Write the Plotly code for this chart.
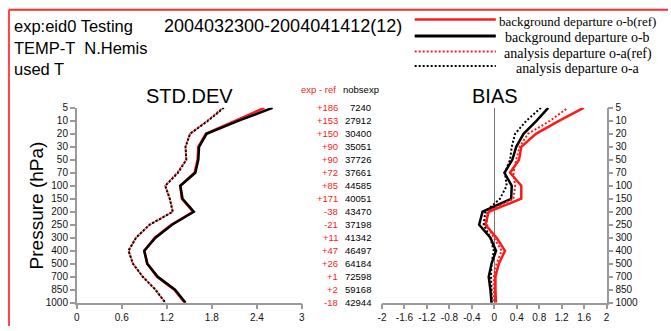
import plotly.graph_objects as go

# Pressure levels (hPa), top of the profile first
levels = ["5", "10", "20", "30", "50", "70", "100", "150", "200", "250",
          "300", "400", "500", "700", "850", "1000"]

# Standard deviation of departures
std_ob_ref = [2.50, 2.12, 1.72, 1.62, 1.61, 1.57, 1.38, 1.40, 1.55, 1.26, 1.04, 0.90, 0.94, 1.07, 1.30, 1.44]
std_ob_exp = [2.61, 2.15, 1.73, 1.63, 1.62, 1.58, 1.38, 1.41, 1.56, 1.27, 1.05, 0.90, 0.94, 1.08, 1.31, 1.45]
std_oa_ref = [1.95, 1.74, 1.51, 1.45, 1.46, 1.34, 1.18, 1.24, 1.28, 0.97, 0.79, 0.69, 0.75, 0.88, 1.05, 1.18]
std_oa_exp = [1.96, 1.75, 1.51, 1.45, 1.46, 1.35, 1.18, 1.24, 1.28, 0.97, 0.79, 0.69, 0.75, 0.88, 1.05, 1.18]

# Bias of departures
bias_ob_ref = [1.59, 1.15, 0.74, 0.48, 0.44, 0.28, 0.48, 0.48, -0.10, -0.16, 0.04, 0.19, 0.08, 0.02, 0.02, 0.03]
bias_ob_exp = [0.96, 0.75, 0.52, 0.39, 0.32, 0.18, 0.31, 0.30, -0.21, -0.27, -0.07, 0.03, -0.05, -0.10, -0.07, -0.05]
bias_oa_ref = [1.31, 0.99, 0.60, 0.45, 0.39, 0.34, 0.37, 0.34, -0.13, -0.13, -0.01, 0.13, 0.04, -0.01, -0.01, -0.01]
bias_oa_exp = [0.83, 0.57, 0.37, 0.31, 0.28, 0.19, 0.22, 0.10, -0.16, -0.19, -0.07, -0.01, -0.05, -0.06, -0.05, -0.05]

# Observation counts: difference exp - ref and number used in exp
nobs_diff = ["+186", "+153", "+150", "+90", "+90", "+72", "+85", "+171", "-38", "-21",
             "+11", "+47", "+26", "+1", "+2", "-18"]
nobs_exp = ["7240", "27912", "30400", "35051", "37726", "37661", "44585", "40051", "43470",
            "37198", "41342", "46497", "64184", "72598", "59168", "42944"]

std_ticks = [0, 0.6, 1.2, 1.8, 2.4, 3]
bias_ticks = [-2, -1.6, -1.2, -0.8, -0.4, 0, 0.4, 0.8, 1.2, 1.6, 2]

W, H = 671, 331
RED = "#ff1a1a"
SANS = "Liberation Sans, Arial, sans-serif"
SERIF = "Liberation Serif, Times New Roman, serif"
AXC = "#9a9a9a"


def px(x):
    return x / W


def py(y):
    return 1 - y / H


idx = list(range(len(levels)))

fig = go.Figure()

DOT = "2px,2px"
DOT_SHIFT = "0px,2px,2px,0px"

series = [
    ("x", "y", std_ob_ref, RED, 2.5, "solid"),
    ("x", "y", std_ob_exp, "black", 2.5, "solid"),
    ("x", "y", std_oa_ref, RED, 2, DOT_SHIFT),
    ("x", "y", std_oa_exp, "black", 2, DOT),
    ("x2", "y2", bias_ob_ref, RED, 2.5, "solid"),
    ("x2", "y2", bias_ob_exp, "black", 2.5, "solid"),
    ("x2", "y2", bias_oa_ref, RED, 2, DOT_SHIFT),
    ("x2", "y2", bias_oa_exp, "black", 2, DOT),
]
for xa, ya, vals, col, w, dash in series:
    fig.add_trace(go.Scatter(x=vals, y=idx, xaxis=xa, yaxis=ya, mode="lines",
                             line=dict(color=col, width=w, dash=dash),
                             showlegend=False, hoverinfo="skip"))

ydom = [py(307), py(106)]
tickfont = dict(family=SANS, size=10, color="#111")
common_axis = dict(showgrid=False, showline=True, linecolor=AXC, linewidth=1.5,
                   ticks="outside", ticklen=5, tickcolor=AXC, tickwidth=1.5,
                   tickfont=tickfont)

fig.update_layout(
    width=W, height=H,
    margin=dict(l=0, r=0, t=0, b=0),
    paper_bgcolor="white", plot_bgcolor="white",
    xaxis=dict(domain=[px(73.5), px(301)], range=[0, 3], anchor="y",
               tickvals=std_ticks, ticktext=[f"{v:g}" for v in std_ticks],
               zeroline=False, **common_axis),
    yaxis=dict(domain=ydom, range=[len(levels) - 1, 0], anchor="x",
               tickvals=idx, ticktext=levels, zeroline=False, **common_axis),
    xaxis2=dict(domain=[px(382), px(609)], range=[-2, 2], anchor="y2",
                tickvals=bias_ticks, ticktext=[f"{v:g}" for v in bias_ticks],
                zeroline=True, zerolinecolor="#777", zerolinewidth=1,
                **common_axis),
    yaxis2=dict(domain=ydom, range=[len(levels) - 1, 0], anchor="x2", side="right",
                tickvals=idx, ticktext=levels, zeroline=False, **common_axis),
    showlegend=False,
)

ann = []


def text(x, y, s, size, color="black", family=SANS, xanchor="left", **kw):
    ann.append(dict(x=px(x), y=py(y), xref="paper", yref="paper", text=s,
                    showarrow=False, xanchor=xanchor, yanchor="middle",
                    font=dict(family=family, size=size, color=color), **kw))


# Header
text(8, 22, "exp:eid0 Testing", 16.5)
text(160, 22, "2004032300-2004041412(12)", 18)
text(8, 44, "TEMP-T  N.Hemis", 16.5)
text(8, 66, "used T", 16.5)

# Panel titles
text(187, 94, "STD.DEV", 20, xanchor="center")
text(496, 94, "BIAS", 20, xanchor="center")

# Vertical axis title
text(33, 207, "Pressure (hPa)", 19, xanchor="center", textangle=-90)

# Observation count column
text(338, 87, "exp - ref", 9.5, color=RED, xanchor="right")
text(341, 87, "nobsexp", 9.5)
for i in idx:
    ann.append(dict(x=px(340), y=i, xref="paper", yref="y", text=nobs_diff[i],
                    showarrow=False, xanchor="right", yanchor="middle",
                    font=dict(family=SANS, size=9.5, color=RED)))
    ann.append(dict(x=px(373), y=i, xref="paper", yref="y", text=nobs_exp[i],
                    showarrow=False, xanchor="right", yanchor="middle",
                    font=dict(family=SANS, size=9.5, color="black")))

# Legend
legend_rows = [
    ("background departure o-b(ref)", RED, 2.5, "solid", 15, 17, 13),
    ("background departure o-b", "black", 3, "solid", 32, 34, 14),
    ("analysis departure o-a(ref)", RED, 2, DOT, 48, 50.5, 14),
    ("analysis departure o-a", "black", 2, DOT, 63, 65.5, 14),
]
shapes = []
for label, col, w, dash, yl, yt, fs in legend_rows:
    shapes.append(dict(type="line", xref="paper", yref="paper",
                       x0=px(415), x1=px(497), y0=py(yl), y1=py(yl),
                       line=dict(color=col, width=w, dash=dash)))
    text(580, yt, label, fs, family=SERIF, xanchor="center")

# Frame lines along the top and left edges
shapes.append(dict(type="line", xref="paper", yref="paper", x0=px(5), x1=1,
                   y0=py(5), y1=py(5), line=dict(color="#ff2a2a", width=2)))
shapes.append(dict(type="line", xref="paper", yref="paper", x0=px(5), x1=px(5),
                   y0=py(5), y1=0, line=dict(color="#ff4444", width=2)))

fig.update_layout(annotations=ann, shapes=shapes)

fig.write_html("out.html")
